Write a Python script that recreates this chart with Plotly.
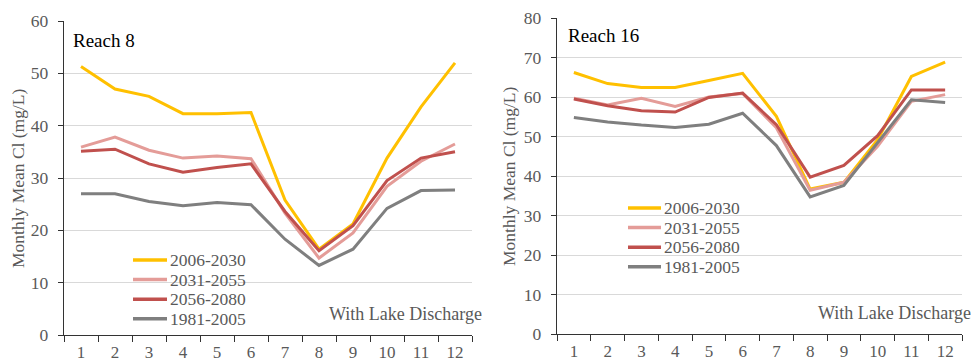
import plotly.graph_objects as go

# Months on the x axis
months = [str(m) for m in range(1, 13)]

# Period names and line colours
periods = ["2006-2030", "2031-2055", "2056-2080", "1981-2005"]
colors = ["#FFC000", "#E49C98", "#C0504D", "#7F7F7F"]

# Reach 8: monthly mean chloride (mg/L)
reach8_2006_2030 = [51.3, 47.0, 45.6, 42.3, 42.3, 42.5, 25.8, 16.4, 21.2, 33.8, 43.6, 52.0]
reach8_2031_2055 = [35.9, 37.8, 35.3, 33.8, 34.2, 33.7, 23.3, 14.7, 19.5, 28.4, 33.2, 36.5]
reach8_2056_2080 = [35.1, 35.5, 32.7, 31.1, 32.0, 32.7, 23.6, 16.1, 20.9, 29.5, 33.8, 35.0]
reach8_1981_2005 = [27.0, 27.0, 25.5, 24.7, 25.3, 24.9, 18.3, 13.3, 16.4, 24.2, 27.6, 27.7]

# Reach 16: monthly mean chloride (mg/L)
reach16_2006_2030 = [66.2, 63.4, 62.4, 62.4, 64.2, 66.0, 55.1, 36.7, 38.4, 49.2, 65.2, 68.8]
reach16_2031_2055 = [59.7, 58.0, 59.7, 57.6, 60.0, 60.9, 52.2, 36.4, 38.4, 47.5, 58.9, 60.6]
reach16_2056_2080 = [59.5, 57.8, 56.5, 56.2, 59.9, 61.0, 53.0, 39.7, 42.7, 50.2, 61.8, 61.8]
reach16_1981_2005 = [54.8, 53.7, 52.9, 52.3, 53.1, 55.9, 47.7, 34.7, 37.6, 48.4, 59.3, 58.6]

reach8 = [reach8_2006_2030, reach8_2031_2055, reach8_2056_2080, reach8_1981_2005]
reach16 = [reach16_2006_2030, reach16_2031_2055, reach16_2056_2080, reach16_1981_2005]

W, H = 974, 362
FONT = "Liberation Serif"
GREY_TXT = "#595959"


def px(x):
    return x / W


def py(y):
    return 1 - y / H


fig = go.Figure()

for vals, name, col in zip(reach8, periods, colors):
    fig.add_trace(go.Scatter(x=months, y=vals, mode="lines", name=name,
                             line=dict(color=col, width=3),
                             xaxis="x", yaxis="y", showlegend=False))
for vals, name, col in zip(reach16, periods, colors):
    fig.add_trace(go.Scatter(x=months, y=vals, mode="lines", name=name,
                             line=dict(color=col, width=3),
                             xaxis="x2", yaxis="y2", showlegend=False))

xcommon = dict(type="category", tickson="boundaries", ticks="outside", ticklen=6,
               tickcolor="#333333", showline=True, linecolor="#333333", linewidth=1.3,
               showgrid=False, zeroline=False, range=[-0.5, 11.5], automargin=False,
               ticklabelstandoff=1,
               tickfont=dict(family=FONT, size=17, color=GREY_TXT))
ycommon = dict(ticks="outside", ticklen=5, tickcolor="#333333", showline=True,
               linecolor="#333333", linewidth=1.3, showgrid=True, gridcolor="#D9D9D9",
               gridwidth=1, zeroline=False, dtick=10, ticklabelstandoff=6,
               automargin=False,
               tickfont=dict(family=FONT, size=17.5, color=GREY_TXT))

fig.update_layout(
    width=W, height=H,
    margin=dict(l=0, r=0, t=0, b=0, autoexpand=False),
    paper_bgcolor="white", plot_bgcolor="white",
    font=dict(family=FONT, color=GREY_TXT),
    xaxis=dict(domain=[px(64), px(472)], anchor="y", **xcommon),
    yaxis=dict(domain=[py(335), py(21)], anchor="x", range=[0, 60], **ycommon),
    xaxis2=dict(domain=[px(557), px(962)], anchor="y2", **xcommon),
    yaxis2=dict(domain=[py(334), py(18)], anchor="x2", range=[0, 80], **ycommon),
)

# Axis titles, panel labels and scenario note
for xc, yc in [(18, 178), (509, 176)]:
    fig.add_annotation(x=px(xc), y=py(yc), xref="paper", yref="paper",
                       text="Monthly Mean Cl (mg/L)", textangle=-90, showarrow=False,
                       xanchor="center", yanchor="middle",
                       font=dict(family=FONT, size=17.5, color=GREY_TXT))
for label, xl, yl in [("Reach 8", 71, 41), ("Reach 16", 566, 36)]:
    fig.add_annotation(x=px(xl), y=py(yl), xref="paper", yref="paper", text=label,
                       xanchor="left", yanchor="middle", showarrow=False,
                       font=dict(family=FONT, size=19, color="black"))
for xr, yr in [(484, 314), (973, 313)]:
    fig.add_annotation(x=px(xr), y=py(yr), xref="paper", yref="paper",
                       text="With Lake Discharge", xanchor="right", yanchor="middle",
                       showarrow=False,
                       font=dict(family=FONT, size=18, color=GREY_TXT))

# Legends drawn inside each panel
legend_boxes = [(133, 167, 260), (628, 661, 208)]
row_gap = 19.6
for x0, x1, y0 in legend_boxes:
    for i, (name, col) in enumerate(zip(periods, colors)):
        yy = y0 + i * row_gap
        fig.add_shape(type="line", xref="paper", yref="paper",
                      x0=px(x0), x1=px(x1), y0=py(yy), y1=py(yy),
                      line=dict(color=col, width=3.5))
        fig.add_annotation(x=px(x1 + 1), y=py(yy), xref="paper", yref="paper",
                           text=name, xanchor="left", yanchor="middle", showarrow=False,
                           font=dict(family=FONT, size=17.5, color=GREY_TXT))

fig.write_html("out.html")
